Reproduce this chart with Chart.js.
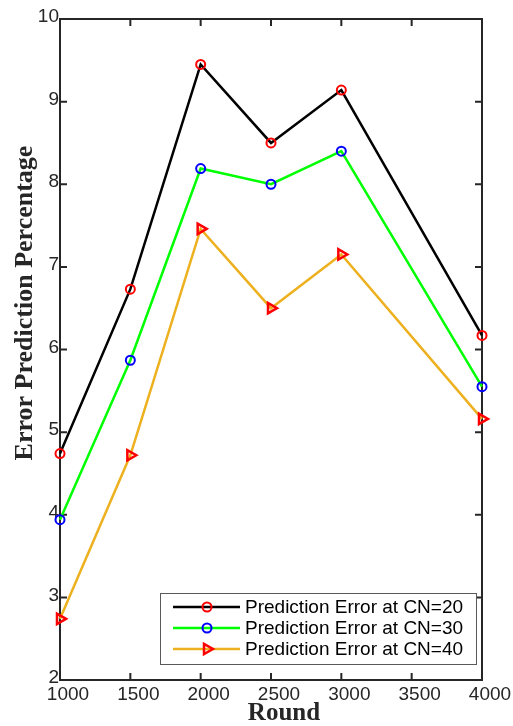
<!DOCTYPE html>
<html lang="en">
<head>
<meta charset="utf-8">
<title>Error Prediction Percentage by Round</title>
<script src="https://cdn.jsdelivr.net/npm/chart.js@4.4.1/dist/chart.umd.min.js"></script>
<style>
  html, body { margin: 0; padding: 0; background: #fff; }
  canvas { display: block; }
</style>
</head>
<body>
<canvas id="c" width="513" height="726"></canvas>
<script>
// rounds on the x axis
var rounds = [1000, 1500, 2000, 2500, 3000, 4000];
// prediction error (%) for each CN setting
var cn20 = [4.74, 6.73, 9.45, 8.50, 9.14, 6.17];
var cn30 = [3.94, 5.87, 8.19, 8.00, 8.40, 5.55];
var cn40 = [2.74, 4.72, 7.46, 6.50, 7.15, 5.16];
var names = ["Prediction Error at CN=20", "Prediction Error at CN=30", "Prediction Error at CN=40"];
var xTicks = [1000, 1500, 2000, 2500, 3000, 3500, 4000];
var yTicks = [2, 3, 4, 5, 6, 7, 8, 9, 10];

function pts(vals) {
  return vals.map(function (v, i) { return { x: rounds[i], y: v }; });
}

var axisCol = "#262626";

// box round the plot with small inward ticks on all four sides
var frame = {
  id: "frame",
  beforeDatasetsDraw: function (chart) {
    var ctx = chart.ctx, a = chart.chartArea;
    var xs = chart.scales.x, ys = chart.scales.y;
    ctx.save();
    ctx.strokeStyle = axisCol;
    ctx.lineWidth = 2;
    ctx.strokeRect(a.left, a.top, a.right - a.left, a.bottom - a.top);
    ctx.beginPath();
    xTicks.forEach(function (t) {
      var px = xs.getPixelForValue(t);
      ctx.moveTo(px, a.bottom); ctx.lineTo(px, a.bottom - 7);
      ctx.moveTo(px, a.top); ctx.lineTo(px, a.top + 7);
    });
    yTicks.forEach(function (t) {
      var py = ys.getPixelForValue(t);
      ctx.moveTo(a.left, py); ctx.lineTo(a.left + 7, py);
      ctx.moveTo(a.right, py); ctx.lineTo(a.right - 7, py);
    });
    ctx.stroke();
    ctx.restore();
  },
  afterDraw: function (chart) {
    var ctx = chart.ctx;
    ctx.save();
    // axis titles
    ctx.fillStyle = axisCol;
    ctx.font = "bold 25px 'Liberation Serif'";
    ctx.textAlign = "center";
    ctx.textBaseline = "alphabetic";
    ctx.fillText("Round", 284, 720);
    ctx.translate(32, 303);
    ctx.rotate(-Math.PI / 2);
    ctx.font = "bold 26px 'Liberation Serif'";
    ctx.fillText("Error Prediction Percentage", 0, 0);
    ctx.restore();

    // legend box
    ctx.save();
    ctx.fillStyle = "#fff";
    ctx.fillRect(160, 593, 317, 72);
    ctx.strokeStyle = "#5a5a5a";
    ctx.lineWidth = 1;
    ctx.strokeRect(160.5, 593.5, 316, 71);
    var rows = [607, 628, 649];
    chart.data.datasets.forEach(function (ds, i) {
      var y = rows[i];
      ctx.strokeStyle = ds.borderColor;
      ctx.lineWidth = ds.borderWidth;
      ctx.beginPath();
      ctx.moveTo(173, y); ctx.lineTo(240, y);
      ctx.stroke();
      ctx.strokeStyle = ds.pointBorderColor;
      ctx.fillStyle = "rgba(0,0,0,0)";
      ctx.lineWidth = ds.pointBorderWidth;
      Chart.helpers.drawPoint(ctx, {
        pointStyle: ds.pointStyle,
        rotation: ds.pointRotation || 0,
        radius: ds.pointRadius,
        borderWidth: ds.pointBorderWidth
      }, 207, y);
      ctx.fillStyle = "#000";
      ctx.font = "19px 'Liberation Sans'";
      ctx.textAlign = "left";
      ctx.textBaseline = "middle";
      ctx.fillText(ds.label, 245, y + 1);
    });
    ctx.restore();
  }
};

new Chart(document.getElementById("c").getContext("2d"), {
  type: "line",
  data: {
    datasets: [{
      label: names[0],
      data: pts(cn20),
      borderColor: "#000000",
      borderWidth: 2.5,
      pointStyle: "circle",
      pointRadius: 4.5,
      pointBorderColor: "#ff0000",
      pointBackgroundColor: "rgba(0,0,0,0)",
      pointBorderWidth: 2,
      tension: 0,
      clip: false
    }, {
      label: names[1],
      data: pts(cn30),
      borderColor: "#00ff00",
      borderWidth: 2.5,
      pointStyle: "circle",
      pointRadius: 4.5,
      pointBorderColor: "#0000ff",
      pointBackgroundColor: "rgba(0,0,0,0)",
      pointBorderWidth: 2,
      tension: 0,
      clip: false
    }, {
      label: names[2],
      data: pts(cn40),
      borderColor: "#edb120",
      borderWidth: 2.5,
      pointStyle: "triangle",
      pointRotation: 90,
      pointRadius: 6,
      pointBorderColor: "#ff0000",
      pointBackgroundColor: "rgba(0,0,0,0)",
      pointBorderWidth: 2.5,
      tension: 0,
      clip: false
    }]
  },
  options: {
    responsive: false,
    animation: false,
    devicePixelRatio: 1,
    layout: { padding: { top: 19, right: 31, left: 0, bottom: 0 } },
    plugins: { legend: { display: false }, tooltip: { enabled: false } },
    scales: {
      x: {
        type: "linear",
        min: 1000, max: 4000,
        afterBuildTicks: function (s) { s.ticks = xTicks.map(function (v) { return { value: v }; }); },
        afterFit: function (s) { s.height = 46; },
        grid: { display: false, drawTicks: false },
        border: { display: false },
        ticks: {
          padding: 3,
          labelOffset: 8,
          color: axisCol,
          font: { family: "'Liberation Sans'", size: 19 },
          maxRotation: 0,
          callback: function (v) { return String(v); }
        }
      },
      y: {
        min: 2, max: 10,
        afterBuildTicks: function (s) { s.ticks = yTicks.map(function (v) { return { value: v }; }); },
        afterFit: function (s) { s.width = 60; },
        grid: { display: false, drawTicks: false },
        border: { display: false },
        ticks: {
          padding: 1,
          labelOffset: -2,
          color: axisCol,
          font: { family: "'Liberation Sans'", size: 19 },
          callback: function (v) { return String(v); }
        }
      }
    }
  },
  plugins: [frame]
});
</script>
</body>
</html>
